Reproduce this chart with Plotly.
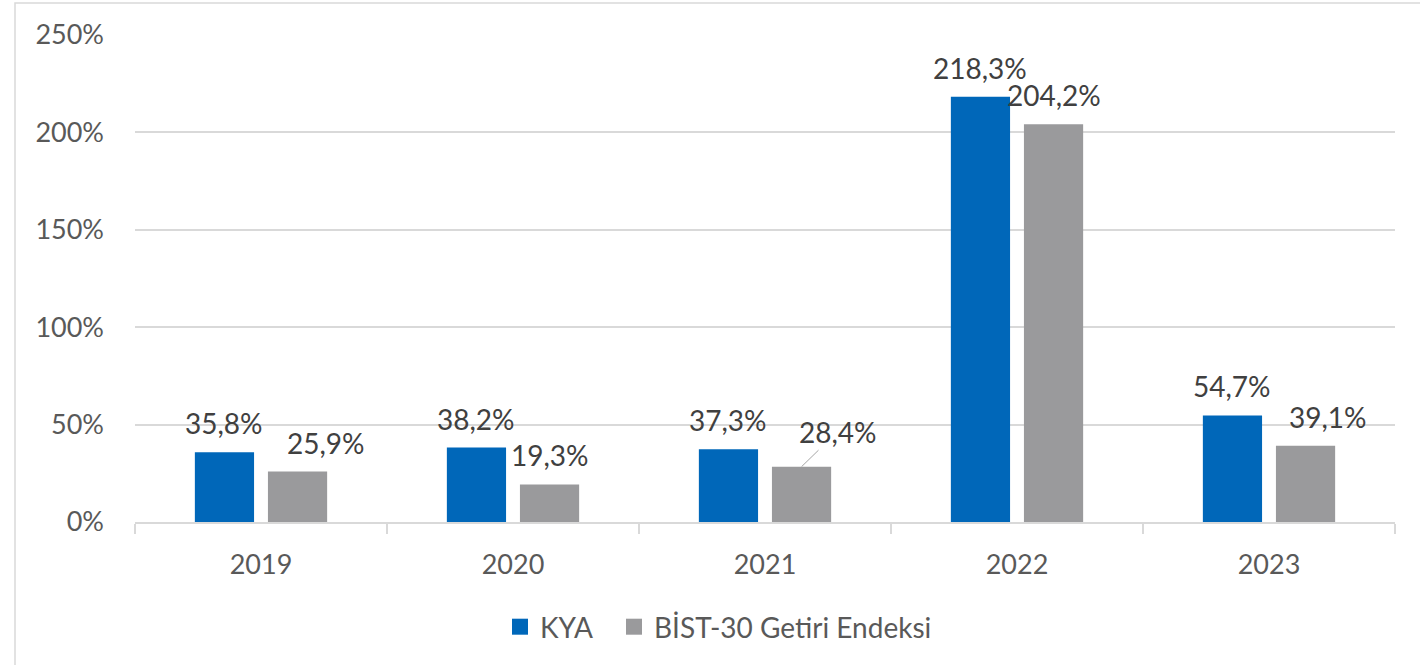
import plotly.graph_objects as go

years = ["2019", "2020", "2021", "2022", "2023"]
kya = [35.8, 38.2, 37.3, 218.3, 54.7]
bist = [25.9, 19.3, 28.4, 204.2, 39.1]
series_names = ["KYA", "BİST-30 Getiri Endeksi"]
colors = ["#0067B9", "#9A9A9C"]
y_ticks = [0, 50, 100, 150, 200, 250]
y_tick_text = [f"{t}%" for t in y_ticks]

# pixel nudges for individual data labels (style only)
kya_dx = [0, 0, 0, 0, 0]
bist_dx = [28, 0, 36, 0, 22]
bist_dy = [0, 0, 6, 0, 0]

FONT = "Lato"
W, H = 1420, 665
ML, MR, MT, MB = 135, 25, 35, 143
PW = W - ML - MR
PH = H - MT - MB

fig = go.Figure()
for name, vals, col in zip(series_names, [kya, bist], colors):
    fig.add_trace(go.Bar(x=years, y=vals, name=name, marker=dict(color=col, line=dict(width=0)),
                         showlegend=False, hoverinfo="x+y"))
for name, col, lg in zip(series_names, colors, ["legend", "legend2"]):
    fig.add_trace(go.Scatter(x=years[:1], y=[None], mode="markers", name=name, hoverinfo="skip",
                             legend=lg, marker=dict(symbol="square", size=16, color=col)))

def fmt(v):
    return f"{v:.1f}".replace(".", ",") + "%"

# bar centre offset from category centre in pixels
cat_w = PW / len(years)
bargap = 0.42
group_w = cat_w * (1 - bargap)
off = group_w / 4

LBL = dict(family=FONT, size=28, color="#404040")
ann = []
for i, y in enumerate(years):
    ann.append(dict(x=i, y=kya[i], xref="x", yref="y", text=fmt(kya[i]), showarrow=False,
                    xshift=-off + kya_dx[i], yshift=29, font=LBL))
    if bist_dy[i]:
        ann.append(dict(x=i, y=bist[i], xref="x", yref="y", text=fmt(bist[i]), showarrow=True,
                        arrowhead=0, arrowwidth=1, arrowcolor="#A6A6A6", ax=bist_dx[i], ay=-(29 + bist_dy[i]),
                        xshift=off, font=LBL))
    else:
        ann.append(dict(x=i, y=bist[i], xref="x", yref="y", text=fmt(bist[i]), showarrow=False,
                        xshift=off + bist_dx[i], yshift=29, font=LBL))

# outer chart border
x0 = (15 - ML) / PW
x1 = (W + 10 - ML) / PW
y1 = (H - MB - 3) / PH
y0 = (H - MB - H - 10) / PH

LEG = dict(orientation="h", xanchor="left", y=(H - MB - 627) / PH, yanchor="middle",
           font=dict(family=FONT, size=28, color="#595959"), itemwidth=30, bgcolor="rgba(0,0,0,0)")

fig.update_layout(
    width=W, height=H,
    margin=dict(l=ML, r=MR, t=MT, b=MB),
    paper_bgcolor="white", plot_bgcolor="white",
    barmode="group", bargap=bargap, bargroupgap=0.19,
    font=dict(family=FONT, size=27, color="#595959"),
    annotations=ann,
    shapes=[dict(type="rect", xref="paper", yref="paper", x0=x0, x1=x1, y0=y0, y1=y1,
                 line=dict(color="#D9D9D9", width=1.5), layer="below")],
    legend=dict(LEG, x=(500 - ML) / PW),
    legend2=dict(LEG, x=(614 - ML) / PW),
    xaxis=dict(type="category", categoryorder="array", categoryarray=years, range=[-0.5, len(years) - 0.5],
               showgrid=False, showline=True, linecolor="#D9D9D9", linewidth=1.5,
               ticks="outside", tickson="boundaries", ticklen=10, tickcolor="#D9D9D9", tickwidth=1.5,
               ticklabelstandoff=18, tickfont=dict(family=FONT, size=27, color="#595959"), fixedrange=True),
    yaxis=dict(range=[0, 250], tickmode="array", tickvals=y_ticks, ticktext=y_tick_text, showgrid=True,
               gridcolor="#D9D9D9", gridwidth=1.5, zeroline=False, showline=False, ticks="",
               ticklabelstandoff=30, tickfont=dict(family=FONT, size=27, color="#595959"), fixedrange=True),
)

fig.write_html("out.html")
